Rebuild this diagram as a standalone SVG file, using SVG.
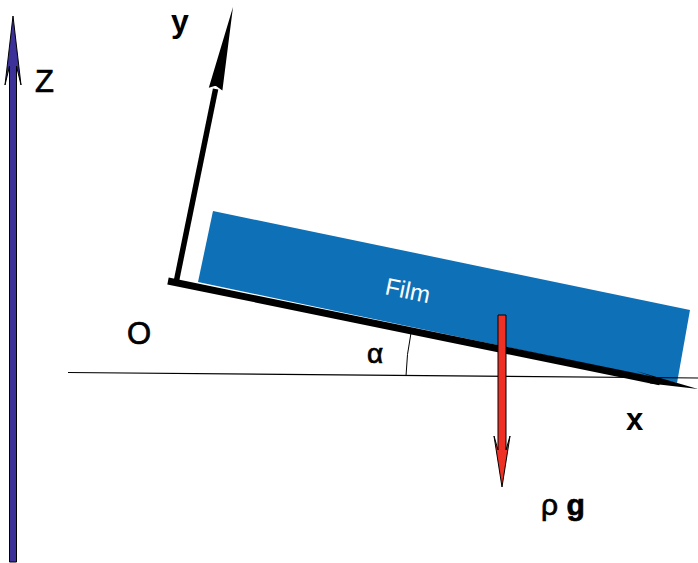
<svg xmlns="http://www.w3.org/2000/svg" width="698" height="563" viewBox="0 0 698 563">
<style>
.lbl{font-family:"Liberation Sans",Arial,sans-serif;fill:#000}
.b{font-weight:bold}
.s{stroke:#000;stroke-width:0.7}
</style>
<rect width="698" height="563" fill="#fff"/>
<g id="film">
<polygon points="213,211 690,310 677,383 198,282" fill="#0e71b8"/>
<text class="lbl" transform="translate(384,294) rotate(11.7)" font-size="24" style="fill:#fff">Film</text>
</g>
<g id="connectors">
<line x1="68" y1="372.5" x2="698" y2="378" stroke="#000" stroke-width="1.2"/>
<path d="M406,376 A234,234 0 0,1 411,333" fill="none" stroke="#000" stroke-width="1"/>
<path d="M176,283 L215.6,89" fill="none" stroke="#000" stroke-width="5.5"/>
<polygon points="233,7 222.4,90.6 216,86 214.6,86 208.8,87.8" fill="#000"/>
<path d="M168,281 L660,381.8" fill="none" stroke="#000" stroke-width="7"/>
<polygon points="698,389 633.3,381.4 650,383.4 652,376.5 636.1,371.1" fill="#000"/>
<polygon points="13,16 21,85 16.5,66 16.5,562 9.5,562 9.5,66 5,85" fill="#3b3199" stroke="#000" stroke-width="1"/>
<polygon points="498,315 506,315 506,450 510,436 502,487 494,436 498,450" fill="#ee3124" stroke="#000" stroke-width="1"/>
</g>
<g id="labels">
<text class="lbl s" x="35" y="92" font-size="31">Z</text>
<text class="lbl b" x="171" y="32" font-size="32">y</text>
<text class="lbl s" x="127" y="343.5" font-size="31">O</text>
<text class="lbl s" x="367" y="363" font-size="28">α</text>
<text class="lbl b" x="626" y="429.5" font-size="31">x</text>
<text class="lbl s" x="541" y="515" font-size="30">ρ <tspan class="b">g</tspan></text>
</g>
</svg>
